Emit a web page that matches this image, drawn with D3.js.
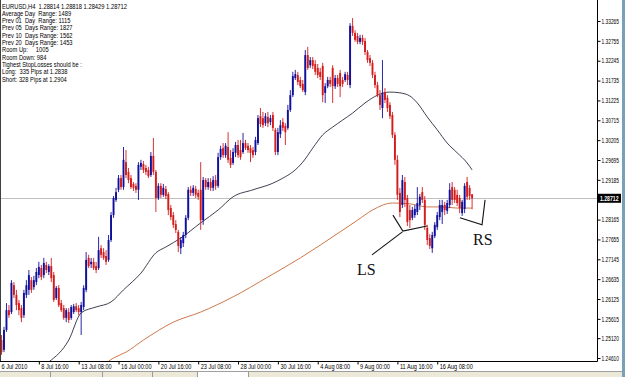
<!DOCTYPE html>
<html><head><meta charset="utf-8">
<script src="https://cdn.jsdelivr.net/npm/d3@7"></script>
<style>html,body{margin:0;padding:0;background:#fff;overflow:hidden}svg{display:block}text{white-space:pre}</style>
</head><body><svg id="c" width="625" height="377"></svg>
<script>
// ---- DATA (EURUSD, H4, 6 Jul 2010 .. 18 Aug 2010) ----
const opens = [
1.2525,1.2507,1.2482,1.2533,1.2584,1.2579,1.2648,1.2623,1.2602,1.2589,
1.2571,1.2623,1.2636,1.2661,1.2643,1.2656,1.2674,1.2692,1.2674,1.2700,
1.2682,1.2697,1.2674,1.2615,1.2641,1.2602,1.2589,1.2564,1.2579,1.2564,
1.2579,1.2594,1.2589,1.2579,1.2592,1.2636,1.2718,1.2702,1.2708,1.2697,
1.2692,1.2743,1.2733,1.2723,1.2713,1.2764,1.2828,1.2867,1.2893,1.2923,
1.2900,1.2964,1.2939,1.2923,1.2908,1.2903,1.2893,1.2952,1.2959,1.2949,
1.2944,1.2931,1.2980,1.2939,1.2872,1.2903,1.2880,1.2895,1.2882,1.2846,
1.2828,1.2805,1.2785,1.2743,1.2756,1.2777,1.2821,1.2893,1.2885,1.2895,
1.2885,1.2893,1.2815,1.2918,1.2900,1.2913,1.2898,1.2918,1.2903,1.2977,
1.3000,1.2982,1.3003,1.2975,1.2962,1.2988,1.3008,1.2995,1.2990,1.3013,
1.3006,1.3000,1.2995,1.2990,1.3013,1.3082,1.3077,1.3064,1.3080,1.3067,
1.3085,1.3047,1.2990,1.3036,1.3067,1.3057,1.3052,1.3098,1.3136,1.3180,
1.3188,1.3175,1.3165,1.3144,1.3239,1.3213,1.3226,1.3216,1.3206,1.3196,
1.3211,1.3142,1.3159,1.3175,1.3206,1.3159,1.3180,1.3193,1.3175,1.3175,
1.3188,1.3162,1.3314,1.3296,1.3288,1.3273,1.3283,1.3275,1.3247,1.3231,
1.3219,1.3188,1.3162,1.3136,1.3103,1.3144,1.3129,1.3111,1.3085,1.3034,
1.2970,1.2885,1.2854,1.2913,1.2872,1.2841,1.2821,1.2828,1.2836,1.2854,
1.2887,1.2867,1.2795,1.2769,1.2743,1.2774,1.2797,1.2823,1.2836,1.2854,
1.2839,1.2854,1.2900,1.2893,1.2880,1.2872,1.2833,1.2844,1.2913,1.2898,
1.28814];
const highs = [
1.2533,1.2520,1.2541,1.2602,1.2597,1.2661,1.2656,1.2636,1.2610,1.2597,
1.2636,1.2661,1.2687,1.2669,1.2672,1.2692,1.2708,1.2700,1.2718,1.2708,
1.2702,1.2718,1.2682,1.2646,1.2648,1.2610,1.2597,1.2589,1.2589,1.2597,
1.2600,1.2602,1.2597,1.2605,1.2648,1.2733,1.2726,1.2718,1.2718,1.2708,
1.2772,1.2751,1.2743,1.2738,1.2777,1.2836,1.2877,1.2898,1.2931,1.2931,
1.3003,1.2995,1.2949,1.2931,1.2913,1.2910,1.2964,1.2970,1.2967,1.2957,
1.2952,1.2990,1.3026,1.2944,1.2910,1.2910,1.2908,1.2903,1.2887,1.2854,
1.2836,1.2815,1.2790,1.2772,1.2785,1.2828,1.2900,1.2903,1.2905,1.2903,
1.2893,1.2964,1.2926,1.2923,1.2923,1.2923,1.2928,1.2931,1.2988,1.3006,
1.3013,1.3013,1.3041,1.2995,1.3000,1.3016,1.3021,1.3021,1.3039,1.3021,
1.3013,1.3008,1.3003,1.3029,1.3085,1.3103,1.3093,1.3090,1.3093,1.3085,
1.3093,1.3052,1.3052,1.3072,1.3077,1.3064,1.3111,1.3149,1.3196,1.3201,
1.3196,1.3183,1.3175,1.3252,1.3260,1.3234,1.3234,1.3226,1.3216,1.3206,
1.3219,1.3167,1.3183,1.3183,1.3213,1.3188,1.3188,1.3201,1.3183,1.3196,
1.3196,1.3321,1.3334,1.3303,1.3296,1.3291,1.3291,1.3283,1.3252,1.3239,
1.3226,1.3196,1.3170,1.3149,1.3226,1.3154,1.3136,1.3118,1.3093,1.3041,
1.2982,1.2898,1.2931,1.2926,1.2880,1.2854,1.2849,1.2854,1.2900,1.2882,
1.2900,1.2877,1.2803,1.2779,1.2785,1.2810,1.2836,1.2867,1.2867,1.2862,
1.2867,1.2910,1.2913,1.2900,1.2893,1.2880,1.2867,1.2910,1.2926,1.2905,
1.28818];
const lows = [
1.2487,1.2469,1.2476,1.2528,1.2564,1.2574,1.2615,1.2584,1.2571,1.2553,
1.2564,1.2615,1.2623,1.2628,1.2636,1.2648,1.2666,1.2661,1.2666,1.2679,
1.2674,1.2656,1.2605,1.2610,1.2592,1.2579,1.2559,1.2553,1.2551,1.2559,
1.2574,1.2579,1.2571,1.2520,1.2584,1.2630,1.2692,1.2692,1.2687,1.2679,
1.2687,1.2718,1.2713,1.2700,1.2708,1.2759,1.2821,1.2862,1.2887,1.2893,
1.2893,1.2923,1.2910,1.2895,1.2890,1.2885,1.2867,1.2944,1.2936,1.2931,
1.2923,1.2926,1.2931,1.2836,1.2867,1.2872,1.2875,1.2869,1.2828,1.2815,
1.2795,1.2782,1.2733,1.2728,1.2746,1.2769,1.2815,1.2877,1.2877,1.2872,
1.2867,1.2790,1.2803,1.2893,1.2893,1.2890,1.2890,1.2893,1.2898,1.2970,
1.2975,1.2975,1.2962,1.2949,1.2957,1.2977,1.2975,1.2970,1.2985,1.2995,
1.2988,1.2964,1.2975,1.2982,1.3008,1.3054,1.3052,1.3057,1.3054,1.3059,
1.3044,1.2982,1.2982,1.3026,1.3044,1.3008,1.3047,1.3093,1.3131,1.3175,
1.3162,1.3154,1.3144,1.3136,1.3201,1.3206,1.3203,1.3188,1.3180,1.3175,
1.3118,1.3116,1.3154,1.3157,1.3116,1.3152,1.3157,1.3131,1.3157,1.3170,
1.3162,1.3154,1.3288,1.3273,1.3267,1.3267,1.3265,1.3239,1.3219,1.3211,
1.3180,1.3154,1.3131,1.3098,1.3077,1.3116,1.3093,1.3075,1.3026,1.2957,
1.2867,1.2823,1.2846,1.2849,1.2800,1.2795,1.2815,1.2821,1.2828,1.2841,
1.2859,1.2790,1.2751,1.2741,1.2731,1.2769,1.2790,1.2815,1.2805,1.2828,
1.2831,1.2846,1.2854,1.2859,1.2851,1.2833,1.2826,1.2833,1.2867,1.2867,
1.28429];
const closes = [
1.2494,1.2476,1.2533,1.2584,1.2571,1.2654,1.2623,1.2597,1.2584,1.2564,
1.2628,1.2648,1.2674,1.2636,1.2661,1.2682,1.2695,1.2669,1.2705,1.2687,
1.2697,1.2666,1.2610,1.2641,1.2597,1.2584,1.2564,1.2584,1.2559,1.2592,
1.2594,1.2584,1.2579,1.2597,1.2641,1.2713,1.2697,1.2708,1.2692,1.2687,
1.2738,1.2726,1.2718,1.2708,1.2764,1.2828,1.2872,1.2887,1.2923,1.2900,
1.2970,1.2931,1.2918,1.2900,1.2898,1.2893,1.2957,1.2962,1.2944,1.2939,
1.2928,1.2980,1.2939,1.2872,1.2903,1.2880,1.2898,1.2877,1.2841,1.2823,
1.2803,1.2790,1.2749,1.2764,1.2777,1.2821,1.2893,1.2885,1.2898,1.2880,
1.2875,1.2815,1.2918,1.2900,1.2913,1.2898,1.2918,1.2903,1.2977,1.2998,
1.2982,1.3006,1.2970,1.2957,1.2990,1.3008,1.2982,1.2977,1.3013,1.3000,
1.2995,1.2988,1.2982,1.3021,1.3077,1.3062,1.3059,1.3082,1.3064,1.3077,
1.3052,1.2990,1.3041,1.3059,1.3052,1.3041,1.3098,1.3136,1.3185,1.3190,
1.3170,1.3159,1.3149,1.3239,1.3206,1.3226,1.3211,1.3196,1.3188,1.3183,
1.3136,1.3159,1.3175,1.3165,1.3159,1.3180,1.3165,1.3159,1.3165,1.3190,
1.3175,1.3314,1.3296,1.3278,1.3273,1.3283,1.3273,1.3247,1.3226,1.3219,
1.3188,1.3162,1.3136,1.3111,1.3142,1.3124,1.3103,1.3082,1.3034,1.2970,
1.2880,1.2836,1.2918,1.2867,1.2810,1.2815,1.2841,1.2844,1.2859,1.2875,
1.2867,1.2803,1.2764,1.2749,1.2777,1.2803,1.2828,1.2854,1.2854,1.2841,
1.2859,1.2893,1.2867,1.2867,1.2859,1.2846,1.2862,1.2903,1.2875,1.2877,
1.28712];

// moving averages: [bar index, price]
const maSlowIdx = [20,28,33,39,45,50,57,63,67,73,81,88,94,102,110,114,118,122,126,130,134,138,142,147,152,157,161,165,168,172,176,180,184,188,190];
const maSlowVal = [1.2451,1.2507,1.2577,1.2592,1.2605,1.2636,1.2679,1.2731,1.2746,1.2769,1.2808,1.2841,1.2875,1.2893,1.2910,1.2923,1.2939,1.2964,1.3000,1.3034,1.3054,1.3072,1.3090,1.3116,1.3136,1.3144,1.3142,1.3134,1.3116,1.3080,1.3047,1.3013,1.2988,1.2962,1.2944];
const maLongIdx = [44,46,51,58,70,81,94,108,121,137,144,150,158,165,172,178,184,190];
const maLongVal = [1.2453,1.2461,1.2476,1.2507,1.2553,1.2579,1.2618,1.2669,1.2718,1.2785,1.2815,1.2841,1.2859,1.2857,1.2849,1.2849,1.2846,1.2846];

const priceTicks = [1.33265,1.32755,1.32245,1.31735,1.31225,1.30715,1.30205,1.29695,1.29185,1.28165,1.27655,1.27145,1.26635,1.26125,1.25615,1.25120,1.24610];
const bidPrice = 1.28712;
const dateTickIdx = [0,16,32,48,64,80,96,112,128,144,160,176];
const dateLabels = ["6 Jul 2010","8 Jul 16:00","13 Jul 08:00","16 Jul 00:00","20 Jul 16:00","23 Jul 08:00","28 Jul 00:00","30 Jul 16:00","4 Aug 08:00","9 Aug 00:00","11 Aug 16:00","16 Aug 08:00"];

const infoLines = ["EURUSD,H4  1.28814 1.28818 1.28429 1.28712","Average Day  Range: 1489","Prev 01  Day  Range: 1115","Prev 05  Days Range: 1827","Prev 10  Days Range: 1562","Prev 20  Days Range: 1453","Room Up:     1005","Room Down: 984","Tighest StopLosses should be :","Long:  335 Pips at 1.2838","Short: 328 Pips at 1.2904"];

// annotations (bar index, price)
const lsLines = [[[158.2,1.2828],[162.2,1.2787],[171.9,1.2800]],[[149.8,1.2726],[162.0,1.2785]]];
const rsLines = [[[185.1,1.2821],[194.0,1.2803],[195.2,1.2867]]];
const lsLabel = {idx:143.8, price:1.2674, text:"LS"};
const rsLabel = {idx:190.4, price:1.2751, text:"RS"};

// ---- DRAW ----
const svg = d3.select("#c");
const W=625,H=377, plotR=597, plotB=361;
const x = d3.scaleLinear().domain([0,190]).range([-1,-1+2.49*190]);
const y = d3.scaleLinear().domain([1.24610,1.33265]).range([358,21]);

svg.append("rect").attr("width",W).attr("height",H).attr("fill","#fff");
svg.append("defs").append("clipPath").attr("id","pc").append("rect").attr("x",0).attr("y",0).attr("width",plotR).attr("height",plotB);
const plot = svg.append("g").attr("clip-path","url(#pc)");

// bid line
plot.append("line").attr("x1",0).attr("x2",plotR).attr("y1",Math.round(y(bidPrice))+0.5).attr("y2",Math.round(y(bidPrice))+0.5).attr("stroke","#c0c0c0").attr("stroke-width",1);

// moving averages
const lineGen = d3.line().curve(d3.curveMonotoneX);
plot.append("path").attr("d",lineGen(maLongIdx.map((d,i)=>[x(d),y(maLongVal[i])]))).attr("fill","none").attr("stroke","#d0784a").attr("stroke-width",1);
plot.append("path").attr("d",lineGen(maSlowIdx.map((d,i)=>[x(d),y(maSlowVal[i])]))).attr("fill","none").attr("stroke","#2a2a40").attr("stroke-width",0.9);

// candles
const bars = d3.range(opens.length).map(i=>({i,o:opens[i],h:highs[i],l:lows[i],c:closes[i]}));
const col = d=> d.c>=d.o ? "#10109c" : "#d41c1c";
const cg = plot.append("g");
cg.selectAll("line").data(bars).join("line")
  .attr("x1",d=>x(d.i)).attr("x2",d=>x(d.i)).attr("y1",d=>y(d.h)).attr("y2",d=>y(d.l))
  .attr("stroke",col).attr("stroke-width",0.9);
cg.selectAll("rect").data(bars).join("rect")
  .attr("x",d=>x(d.i)-0.95).attr("width",1.9)
  .attr("y",d=>Math.min(y(d.o),y(d.c))).attr("height",d=>Math.max(1,Math.abs(y(d.o)-y(d.c))))
  .attr("fill",col);

// annotations
const ag = plot.append("g").attr("fill","none").attr("stroke","#111").attr("stroke-width",1.1);
const ln = d3.line();
lsLines.concat(rsLines).forEach(pts=>ag.append("path").attr("d",ln(pts.map(p=>[x(p[0]),y(p[1])]))));
[lsLabel,rsLabel].forEach(L=>plot.append("text").attr("x",x(L.idx)).attr("y",y(L.price))
  .attr("font-family","'Liberation Serif',serif").attr("font-size",16).attr("fill","#111").text(L.text));

// condense helpers
function condense(sel,f){ sel.each(function(){ const l=this.getComputedTextLength(); d3.select(this).attr("textLength",l*f).attr("lengthAdjust","spacingAndGlyphs"); }); }
function fitTo(sel,w){ sel.attr("textLength",w).attr("lengthAdjust","spacingAndGlyphs"); }

// right axis
const ya = svg.append("g").attr("transform",`translate(${plotR+0.5},0)`)
  .call(d3.axisRight(y).tickValues(priceTicks).tickSize(3).tickSizeOuter(0).tickFormat(d3.format(".5f")));
ya.select(".domain").remove();
ya.selectAll(".tick line").attr("stroke","#000");
ya.selectAll(".tick text").attr("x",4).attr("font-family","'Liberation Sans',Arial,sans-serif").attr("font-size",6.8).attr("fill","#000");
fitTo(ya.selectAll(".tick text"),17.5);
svg.append("line").attr("x1",plotR+0.5).attr("x2",plotR+0.5).attr("y1",0).attr("y2",plotB+0.5).attr("stroke","#000");

// current price box
const by = y(bidPrice);
svg.append("rect").attr("x",plotR+1).attr("y",by-4.5).attr("width",23).attr("height",9).attr("fill","#000");
const bt = svg.append("text").attr("x",plotR+3).attr("y",by+2.5).attr("font-family","'Liberation Sans',Arial,sans-serif").attr("font-size",6.8).attr("font-weight","bold").attr("fill","#fff").text(d3.format(".5f")(bidPrice));
fitTo(bt,18.5);

// bottom axis
const xa = svg.append("g").attr("transform",`translate(0,${plotB+0.5})`)
  .call(d3.axisBottom(x).tickValues(dateTickIdx).tickSize(3).tickSizeOuter(0).tickFormat((d,i)=>dateLabels[i]));
xa.select(".domain").remove();
xa.selectAll(".tick line").attr("stroke","#000");
xa.selectAll(".tick text").attr("text-anchor","start").attr("x",2).attr("y",3).attr("dy","0.71em")
  .attr("font-family","'Liberation Sans',Arial,sans-serif").attr("font-size",7).attr("fill","#000");
condense(xa.selectAll(".tick text"),0.8);
svg.append("line").attr("x1",0).attr("x2",plotR+0.5).attr("y1",plotB+0.5).attr("y2",plotB+0.5).attr("stroke","#000");

// tab strip at very bottom
svg.append("rect").attr("x",0).attr("y",371).attr("width",W).attr("height",6).attr("fill","#ece9d8");
svg.append("line").attr("x1",0).attr("x2",W).attr("y1",371.5).attr("y2",371.5).attr("stroke","#a0a0a0");
[50,102,152,197,248].forEach(t=>svg.append("line").attr("x1",t+0.5).attr("x2",t+0.5).attr("y1",372).attr("y2",377).attr("stroke","#9a9a9a"));
svg.append("rect").attr("x",198).attr("y",372).attr("width",50).attr("height",5).attr("fill","#fff");

// info text
const ig = svg.append("g").attr("font-family","'Liberation Sans',Arial,sans-serif").attr("font-size",7).attr("fill","#000");
ig.selectAll("text").data(infoLines).join("text").attr("x",2).attr("y",(d,i)=>8.5+7.3*i).text(d=>d);
condense(ig.selectAll("text"),0.82);
fitTo(ig.select("text"),125);

// window frame
svg.append("line").attr("x1",0.5).attr("x2",0.5).attr("y1",0).attr("y2",plotB).attr("stroke","#404040");
svg.append("rect").attr("x",622).attr("y",0).attr("width",3).attr("height",H).attr("fill","#7aa0b8");
</script></body></html>
